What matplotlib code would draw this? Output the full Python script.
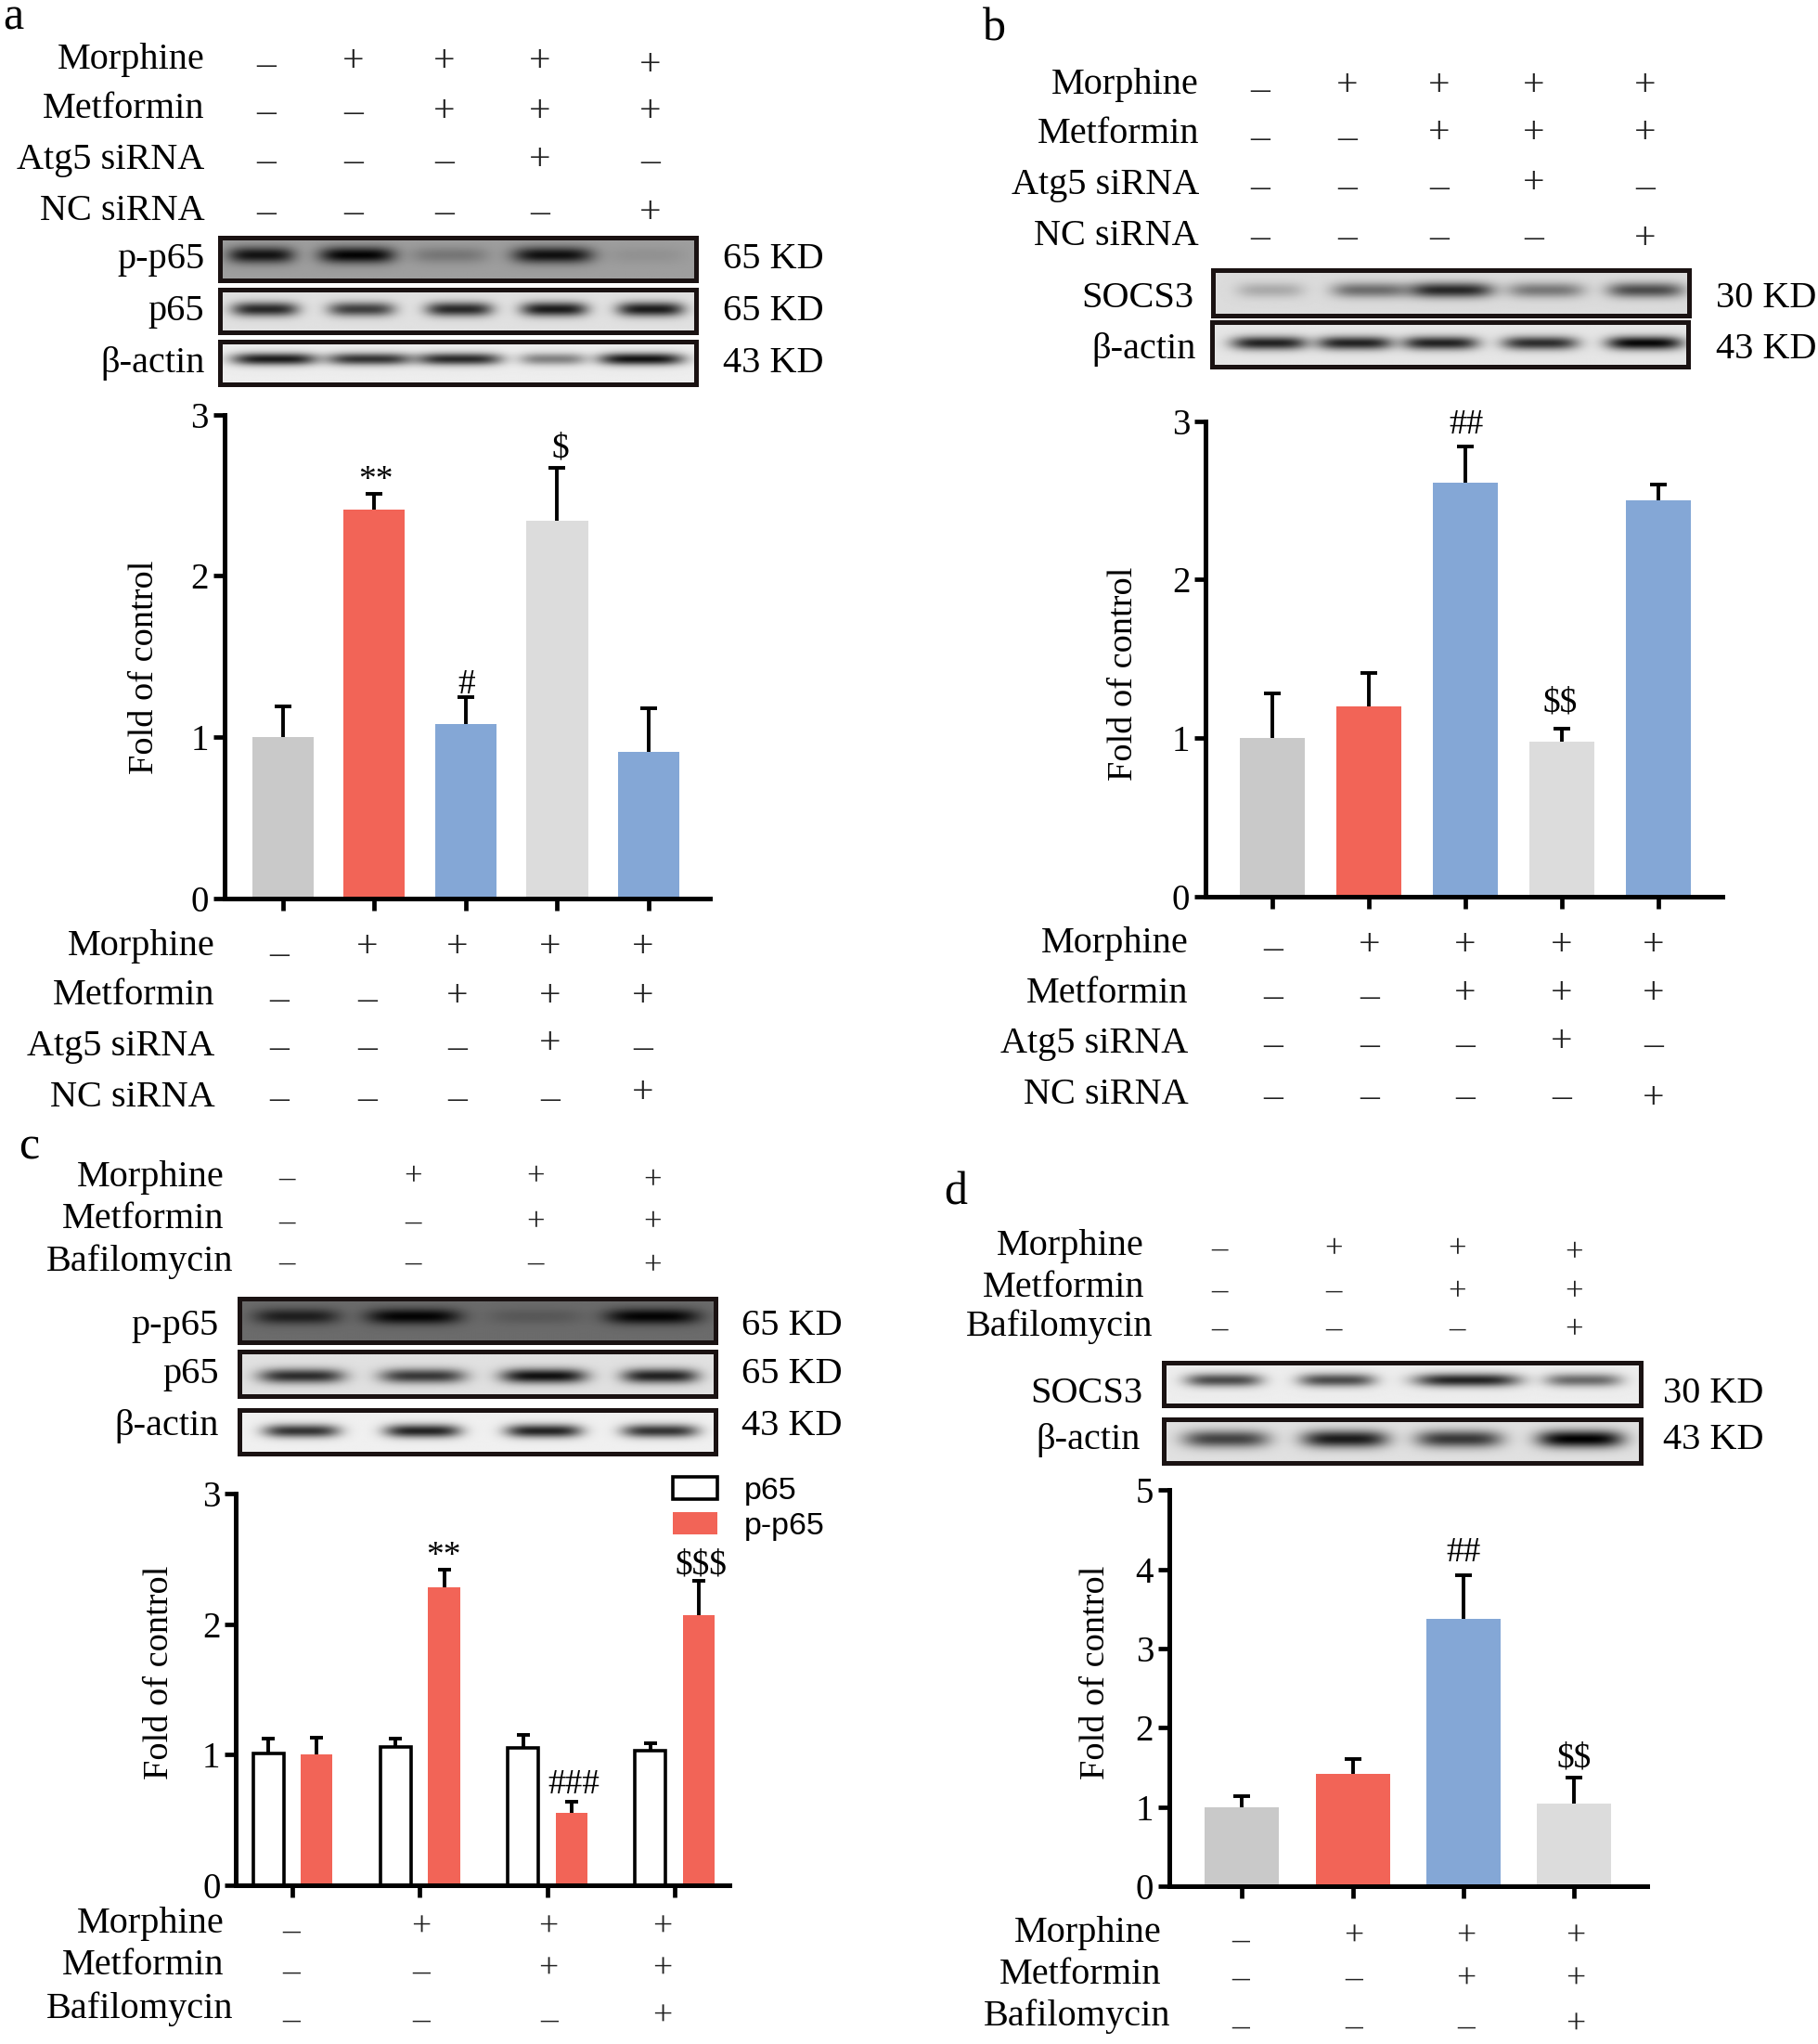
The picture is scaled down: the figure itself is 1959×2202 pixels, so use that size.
import numpy as np
import matplotlib
matplotlib.use('Agg')
import matplotlib.pyplot as plt
from matplotlib.patches import Rectangle

plt.rcParams['font.family'] = ['Liberation Serif', 'DejaVu Sans']

GRAY = '#c9c9c9'
RED = '#f26457'
BLUE = '#84a7d6'
LIGHT = '#dcdcdc'

# bar values and tops of the error bars
a_vals = [1.0, 2.41, 1.08, 2.34, 0.91]
a_tops = [1.19, 2.51, 1.25, 2.67, 1.18]
a_cols = [GRAY, RED, BLUE, LIGHT, BLUE]

b_vals = [1.0, 1.2, 2.61, 0.98, 2.5]
b_tops = [1.28, 1.41, 2.84, 1.06, 2.6]
b_cols = [GRAY, RED, BLUE, LIGHT, BLUE]

c_p65 = [1.01, 1.06, 1.05, 1.03]
c_p65_tops = [1.12, 1.12, 1.15, 1.09]
c_pp65 = [1.0, 2.28, 0.55, 2.07]
c_pp65_tops = [1.13, 2.42, 0.64, 2.33]

d_vals = [1.0, 1.42, 3.37, 1.04]
d_tops = [1.14, 1.6, 3.93, 1.37]
d_cols = [GRAY, RED, BLUE, LIGHT]

# treatment tables
labels_siRNA = ['Morphine', 'Metformin', 'Atg5 siRNA', 'NC siRNA']
signs_siRNA = ['-++++', '--+++', '---+-', '----+']
labels_baf = ['Morphine', 'Metformin', 'Bafilomycin']
signs_baf = ['-+++', '--++', '---+']

fig = plt.figure(figsize=(19.59, 22.02), dpi=100)
W, H = 1395.0, 1568.0

# overlay in the coordinates of the shrunk reference, for the annotation text and blots
ov = fig.add_axes([0, 0, 1, 1], zorder=5)
ov.set_xlim(0, W)
ov.set_ylim(H, 0)
ov.axis('off')
ov.patch.set_alpha(0)


def chart(x0, x1, ytop, ybot, ymax, first, step):
    ax = fig.add_axes([x0 / W, 1 - ybot / H, (x1 - x0) / W, (ybot - ytop) / H])
    ax.set_ylim(0, ymax)
    ax.set_xlim((x0 - first) / step, (x1 - first) / step)
    for s in ['top', 'right']:
        ax.spines[s].set_visible(False)
    for s in ['left', 'bottom']:
        ax.spines[s].set_linewidth(3.6)
    ax.set_yticks(range(ymax + 1))
    ax.tick_params(axis='y', length=9, width=3.4, labelsize=28, pad=3)
    ax.tick_params(axis='x', length=9, width=3.4, labelbottom=False)
    return ax


def err(ax, x, vals, tops, cap=13):
    ax.vlines(x, vals, tops, color='black', lw=2.8, zorder=3)
    ax.plot(x, tops, ls='none', marker='_', ms=cap, mew=2.8, color='black', zorder=3)


def sign_table(labels, signs, right, rows, xs, ys_minus, ys_plus, sign_size=30, last_dy=0):
    for lab, y in zip(labels, rows):
        # Bafilomycin sticks out past the other row labels
        r_edge = right + 7 if lab == 'Bafilomycin' else right
        ov.text(r_edge, y + 2, lab, ha='right', va='center', fontsize=29)
    for r, row in enumerate(signs):
        for c, ch in enumerate(row):
            y = ys_plus[r] if ch == '+' else ys_minus[r]
            if r == 0 and c == len(row) - 1:
                y += last_dy
            off = 0.27 * sign_size * 1.389 / 1.404
            # glyphs sit above the baseline, shift so that y is the middle of the sign
            ov.text(xs[c], y + (off + 3 if ch == '+' else off * 0.85 + 2), '+' if ch == '+' else '\u2013',
                    ha='center', va='baseline', fontsize=sign_size, color='#222222')


def blot(x0, x1, y0, y1, bg, centers, widths, dark, yc=0.45, h=0.14):
    nx, ny = 365, 60
    xx, yy = np.meshgrid(np.linspace(0, 1, nx), np.linspace(0, 1, ny))
    img = np.full((ny, nx), float(bg))
    for c, w, d in zip(centers, widths, dark):
        band = np.exp(-((xx - c) / w) ** 4) * np.exp(-((yy - yc) / (h * 1.2)) ** 2)
        img = img * (1 - d * band)
    ov.imshow(img, extent=[x0, x1, y1, y0], cmap='gray', vmin=0, vmax=1, aspect='auto', zorder=1,
              interpolation='bilinear')
    ov.add_patch(Rectangle((x0, y0), x1 - x0, y1 - y0, fill=False, ec='#1a1212', lw=3.6, zorder=2))
    # imshow resets the limits
    ov.set_xlim(0, W)
    ov.set_ylim(H, 0)


def blot_label(name, kd, right, left, y):
    ov.text(right, y + 2, name, ha='right', va='center', fontsize=29)
    ov.text(left, y + 2, kd, ha='left', va='center', fontsize=29)


def ylabel(x, y):
    ov.text(x, y, 'Fold of control', rotation=90, ha='center', va='center', fontsize=27.5)


def note(x, y, s):
    ov.text(x, y + 2, s, ha='center', va='center', fontsize=27, parse_math=False)


# panel a
ov.text(10, 14, 'a', ha='center', va='center', fontsize=36)
sign_table(labels_siRNA, signs_siRNA, 157, [44, 82, 121, 160], [204, 271, 341, 414, 499],
           [49, 85, 123, 162], [44, 82, 119, 160], last_dy=3)
blot(169, 534, 182, 215, 0.62, [.086, .288, .483, .70, .897], [.07, .08, .08, .085, .08],
     [.88, .98, .25, .9, .08], yc=0.42, h=0.16)
blot(169, 534, 222, 255, 0.88, [.094, .297, .503, .703, .906], [.07, .07, .07, .07, .07],
     [.82, .72, .82, .88, .88], yc=0.47, h=0.14)
blot(169, 534, 262, 295, 0.93, [.114, .314, .503, .70, .886], [.09, .09, .09, .07, .09],
     [.88, .78, .82, .45, .92], yc=0.42, h=0.12)
blot_label('p-p65', '65 KD', 157, 555, 197)
blot_label('p65', '65 KD', 157, 555, 237)
blot_label('\u03b2-actin', '43 KD', 157, 555, 277)

ax = chart(172, 545, 318, 689, 3, 217, 70.2)
x = np.arange(5)
ax.bar(x, a_vals, width=0.67, color=a_cols)
err(ax, x, a_vals, a_tops)
ax.set_xticks(x)
ylabel(111, 512)
note(288, 367, '**')
note(358, 523, '#')
note(430, 342, '$')
sign_table(labels_siRNA, signs_siRNA, 165, [724, 762, 801, 840], [214, 282, 351, 422, 493],
           [731, 766, 803, 842], [723, 761, 797, 835])

# panel b
ov.text(763, 22, 'b', ha='center', va='center', fontsize=36)
sign_table(labels_siRNA, signs_siRNA, 920, [63, 101, 140, 179], [967, 1034, 1104, 1177, 1262],
           [68, 105, 143, 181], [62, 99, 137, 180])
blot(931, 1296, 207, 242, 0.86, [.12, .33, .50, .70, .91], [.07, .08, .09, .08, .08],
     [.22, .5, .82, .45, .65], yc=0.45, h=0.14)
blot(930, 1295, 247, 281, 0.9, [.12, .30, .48, .69, .91], [.08, .08, .08, .08, .08],
     [.85, .85, .85, .8, .97], yc=0.47, h=0.13)
blot_label('SOCS3', '30 KD', 916, 1317, 227)
blot_label('\u03b2-actin', '43 KD', 918, 1317, 266)

ax = chart(925, 1322, 323, 688, 3, 976, 74.2)
ax.bar(x, b_vals, width=0.67, color=b_cols)
err(ax, x, b_vals, b_tops)
ax.set_xticks(x)
ylabel(862, 517)
note(1125, 324, '##')
note(1197, 537, '$$')
sign_table(labels_siRNA, signs_siRNA, 912, [722, 760, 799, 838], [977, 1051, 1124, 1198, 1269],
           [727, 764, 801, 841], [722, 759, 796, 839])

# panel c
ov.text(22, 880, 'c', ha='center', va='center', fontsize=36)
sign_table(labels_baf, signs_baf, 172, [901, 933, 966], [220, 317, 411, 501],
           [903, 936, 968], [900, 935, 968], sign_size=25, last_dy=3)
blot(184, 549, 996, 1030, 0.42, [.12, .366, .623, .869], [.09, .10, .10, .10],
     [.72, .97, .18, .97], yc=0.42, h=0.15)
blot(184, 549, 1037, 1071, 0.88, [.13, .385, .64, .885], [.09, .09, .09, .08],
     [.8, .75, .93, .85], yc=0.55, h=0.14)
blot(184, 549, 1082, 1115, 0.94, [.13, .385, .64, .885], [.08, .08, .08, .08],
     [.78, .85, .85, .78], yc=0.48, h=0.13)
blot_label('p-p65', '65 KD', 168, 569, 1015)
blot_label('p65', '65 KD', 168, 569, 1052)
blot_label('\u03b2-actin', '43 KD', 168, 569, 1092)

ax = chart(181, 560, 1146, 1446, 3, 224.5, 97.7)
xc = np.arange(4)
shift = 0.19
ax.bar(xc - shift, c_p65, width=0.24, color='white', edgecolor='black', linewidth=2.6, label='p65')
ax.bar(xc + shift, c_pp65, width=0.25, color=RED, label='p-p65')
err(ax, xc - shift, c_p65, c_p65_tops, cap=10)
err(ax, xc + shift, c_pp65, c_pp65_tops, cap=10)
ax.set_xticks(xc)
leg = ax.legend(loc='upper left', bbox_to_anchor=(516 / W, 1 - 1133 / H), bbox_transform=fig.transFigure,
                frameon=False, borderpad=0, borderaxespad=0, handlelength=1.42, handleheight=0.7,
                handletextpad=0.85, labelspacing=0.2, prop={'family': 'Liberation Sans', 'size': 24.5})
ylabel(122, 1283)
note(340, 1192, '**')
note(440, 1367, '###')
note(538, 1199, '$$$')
sign_table(labels_baf, signs_baf, 172, [1474, 1506, 1539], [223, 323, 421, 508],
           [1480, 1511, 1548], [1475, 1507, 1543], sign_size=27)

# panel d
ov.text(733, 915, 'd', ha='center', va='center', fontsize=36)
sign_table(labels_baf, signs_baf, 878, [954, 986, 1016], [936, 1023, 1118, 1208],
           [957, 989, 1018], [955, 988, 1017], sign_size=25, last_dy=3)
blot(893, 1259, 1045, 1078, 0.93, [.125, .363, .637, .881], [.08, .08, .11, .08],
     [.68, .68, .85, .55], yc=0.42, h=0.13)
blot(893, 1259, 1089, 1122, 0.88, [.13, .38, .62, .875], [.09, .09, .09, .09],
     [.7, .88, .75, 1.0], yc=0.45, h=0.17)
blot_label('SOCS3', '30 KD', 877, 1276, 1067)
blot_label('\u03b2-actin', '43 KD', 875, 1276, 1103)

ax = chart(897, 1264, 1143, 1447, 5, 953, 85)
ax.bar(xc, d_vals, width=0.67, color=d_cols)
err(ax, xc, d_vals, d_tops)
ax.set_xticks(xc)
ylabel(841, 1283)
note(1123, 1189, '##')
note(1208, 1347, '$$')
sign_table(labels_baf, signs_baf, 891, [1481, 1513, 1545], [952, 1039, 1125, 1209],
           [1487, 1516, 1553], [1482, 1515, 1550], sign_size=27)

fig.savefig('out.png', dpi=100)
